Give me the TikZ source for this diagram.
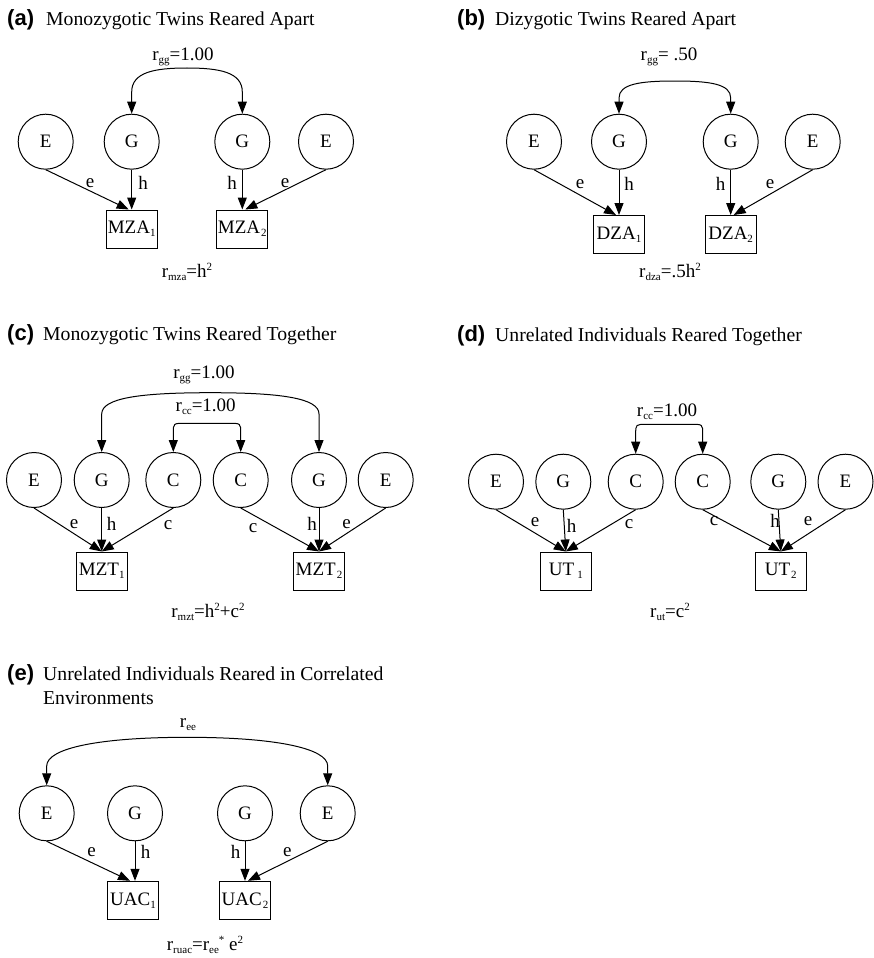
\documentclass[tikz,border=0pt]{standalone}
\usepackage{fontspec}
\setmainfont{Liberation Serif}
\newfontfamily\hel{Liberation Sans}
\usetikzlibrary{arrows.meta,calc}
\newcommand{\sbs}[1]{\raisebox{-0.35ex}{\fontsize{11}{11}\selectfont #1}}
\newcommand{\sps}[1]{\raisebox{0.8ex}{\fontsize{11}{11}\selectfont #1}}
\tikzset{
  every node/.style={font=\fontsize{19}{22}\selectfont},
  circ/.style={circle,draw,line width=1pt,minimum size=55pt,inner sep=0pt},
  obs/.style={rectangle,draw,line width=1pt,minimum width=51pt,minimum height=38pt,inner sep=0pt},
  arr/.style={line width=1pt,-{Triangle[length=12pt,width=9pt]}},
  darr/.style={line width=1pt,{Triangle[length=12pt,width=9pt]}-{Triangle[length=12pt,width=9pt]}},
  lbl/.style={inner sep=0pt},
  ttl/.style={anchor=base west,inner sep=0pt,font=\hel\bfseries\fontsize{22}{22}\selectfont},
  ttx/.style={anchor=base west,inner sep=0pt,font=\fontsize{19.7}{22}\selectfont}
}
\begin{document}
\begin{tikzpicture}[x=1pt,y=-1pt]
\useasboundingbox (0,0) rectangle (874,958);
% ---------------- (a)
\node[ttl] (ta) at (7,25.5) {(a)};
\node[ttx] (tta) at (46,25.5) {Monozygotic Twins Reared Apart};
\node[circ] (ae1) at (45.7,141.7) {E};
\node[circ] (ag1) at (131.7,141.7) {G};
\node[circ] (ag2) at (242.3,141.7) {G};
\node[circ] (ae2) at (326,141.7) {E};
\node[obs] (am1) at (131.7,229) {MZA\sbs{1}};
\node[obs] (am2) at (242.3,229) {MZA\kern1pt\sbs{2}};
\draw[darr] (ag1.north) -- (131.7,92) .. controls (131.7,72) and (155,68) .. (187,68) .. controls (219,68) and (242.3,72) .. (242.3,92) -- (ag2.north);
\node[lbl] (argg) at (183,57) {r\sbs{gg}=1.00};
\draw[arr] (ae1.south) -- ($(am1.north)+(-3,0)$);
\draw[arr] (ag1.south) -- (am1.north);
\draw[arr] (ag2.south) -- (am2.north);
\draw[arr] (ae2.south) -- ($(am2.north)+(3,0)$);
\node[lbl] (al1) at (90,183) {e};
\node[lbl] (al2) at (143,183) {h};
\node[lbl] (al3) at (232,183) {h};
\node[lbl] (al4) at (285,183) {e};
\node[lbl] (af) at (187,272) {r\sbs{mza}=h\sps{2}};
% ---------------- (b)
\node[ttl] (tb) at (457,25.5) {(b)};
\node[ttx] (ttb) at (495,25.5) {Dizygotic Twins Reared Apart};
\node[circ] (be1) at (534,141.7) {E};
\node[circ] (bg1) at (619,141.7) {G};
\node[circ] (bg2) at (730.7,141.7) {G};
\node[circ] (be2) at (812.7,141.7) {E};
\node[obs] (bm1) at (619,234.5) {DZA\sbs{1}};
\node[obs] (bm2) at (730.7,234.5) {DZA\sbs{2}};
\draw[darr] (bg1.north) -- (619,98) .. controls (619,84) and (640,81) .. (674.9,81) .. controls (710,81) and (730.7,84) .. (730.7,98) -- (bg2.north);
\node[lbl] (brgg) at (669,57) {r\sbs{gg}= .50};
\draw[arr] (be1.south) -- ($(bm1.north)+(-3,0)$);
\draw[arr] (bg1.south) -- (bm1.north);
\draw[arr] (bg2.south) -- (bm2.north);
\draw[arr] (be2.south) -- ($(bm2.north)+(3,0)$);
\node[lbl] (bl1) at (580,184) {e};
\node[lbl] (bl2) at (629,184) {h};
\node[lbl] (bl3) at (720.7,184) {h};
\node[lbl] (bl4) at (770,184) {e};
\node[lbl] (bf) at (670,272) {r\sbs{dza}=.5h\sps{2}};
% ---------------- (c)
\node[ttl] (tc) at (7,340) {(c)};
\node[ttx] (ttc) at (43,340) {Monozygotic Twins Reared Together};
\node[circ] (ce1) at (34,480) {E};
\node[circ] (cg1) at (101.7,480) {G};
\node[circ] (cc1) at (173.3,480) {C};
\node[circ] (cc2) at (240.7,480) {C};
\node[circ] (cg2) at (319,480) {G};
\node[circ] (ce2) at (385.7,480) {E};
\node[obs] (cm1) at (101.7,571) {MZT\sbs{1}};
\node[obs] (cm2) at (319,571) {MZT\kern1pt\sbs{2}};
\draw[darr] (cg1.north) -- (101.7,414) .. controls (101.7,398) and (140,392.7) .. (210.3,392.7) .. controls (280,392.7) and (319,398) .. (319,414) -- (cg2.north);
\draw[darr] (cc1.north) -- (173.3,433) .. controls (173.3,423.3) .. (185,423.3) -- (229,423.3) .. controls (240.7,423.3) .. (240.7,433) -- (cc2.north);
\node[lbl] (crgg) at (204,375) {r\sbs{gg}=1.00};
\node[lbl] (crcc) at (205.7,406.7) {r\sbs{cc}=1.00};
\draw[arr] (ce1.south) -- (cm1.north);
\draw[arr] (cg1.south) -- (cm1.north);
\draw[arr] (cc1.south) -- (cm1.north);
\draw[arr] (cc2.south) -- (cm2.north);
\draw[arr] (cg2.south) -- (cm2.north);
\draw[arr] (ce2.south) -- (cm2.north);
\node[lbl] (cl1) at (74,524) {e};
\node[lbl] (cl2) at (111.7,524) {h};
\node[lbl] (cl3) at (168,525) {c};
\node[lbl] (cl4) at (253,528) {c};
\node[lbl] (cl5) at (312,524) {h};
\node[lbl] (cl6) at (346.7,524) {e};
\node[lbl] (cf) at (208,612) {r\sbs{mzt}=h\sps{2}+c\sps{2}};
% ---------------- (d)
\node[ttl] (td) at (457,341.5) {(d)};
\node[ttx] (ttd) at (495,341.5) {Unrelated Individuals Reared Together};
\node[circ] (de1) at (496,481.7) {E};
\node[circ] (dg1) at (563.3,481.7) {G};
\node[circ] (dc1) at (635.7,481.7) {C};
\node[circ] (dc2) at (702.7,481.7) {C};
\node[circ] (dg2) at (778.3,481.7) {G};
\node[circ] (de2) at (845.5,481.7) {E};
\node[obs] (dm1) at (565.8,571) {UT\,\sbs{1}};
\node[obs] (dm2) at (780.8,571) {UT\kern1pt\sbs{2}};
\draw[darr] (dc1.north) -- (635.7,434) .. controls (635.7,424.3) .. (647,424.3) -- (691,424.3) .. controls (702.7,424.3) .. (702.7,434) -- (dc2.north);
\node[lbl] (drcc) at (667,411.7) {r\sbs{cc}=1.00};
\draw[arr] (de1.south) -- (dm1.north);
\draw[arr] (dg1.south) -- (dm1.north);
\draw[arr] (dc1.south) -- (dm1.north);
\draw[arr] (dc2.south) -- (dm2.north);
\draw[arr] (dg2.south) -- (dm2.north);
\draw[arr] (de2.south) -- (dm2.north);
\node[lbl] (dl1) at (535,521.7) {e};
\node[lbl] (dl2) at (571.7,526) {h};
\node[lbl] (dl3) at (629,524) {c};
\node[lbl] (dl4) at (714,521) {c};
\node[lbl] (dl5) at (775,521) {h};
\node[lbl] (dl6) at (808,521) {e};
\node[lbl] (df) at (670,612) {r\sbs{ut}=c\sps{2}};
% ---------------- (e)
\node[ttl] (te) at (7,680) {(e)};
\node[ttx] (tte) at (43,680) {Unrelated Individuals Reared in Correlated};
\node[ttx] (tte2) at (43,704) {Environments};
\node[circ] (ee1) at (46.7,813.3) {E};
\node[circ] (eg1) at (135,813.3) {G};
\node[circ] (eg2) at (245,813.3) {G};
\node[circ] (ee2) at (327.7,813.3) {E};
\node[obs] (em1) at (133,900.3) {UAC\sbs{1}};
\node[obs] (em2) at (245,900.3) {UAC\kern1pt\sbs{2}};
\draw[darr] (ee1.north) -- (46.7,766) .. controls (46.7,748) and (100,737.3) .. (187.2,737.3) .. controls (274,737.3) and (327.7,748) .. (327.7,766) -- (ee2.north);
\node[lbl] (eree) at (188,725) {r\sbs{ee}};
\draw[arr] (ee1.south) -- ($(em1.north)+(-3,0)$);
\draw[arr] (eg1.south) -- ($(em1.north)+(2,0)$);
\draw[arr] (eg2.south) -- (em2.north);
\draw[arr] (ee2.south) -- ($(em2.north)+(3,0)$);
\node[lbl] (el1) at (91.7,851.7) {e};
\node[lbl] (el2) at (145.7,851.7) {h};
\node[lbl] (el3) at (235.7,851.7) {h};
\node[lbl] (el4) at (287.3,851.7) {e};
\node[lbl] (ef) at (205,945) {r\sbs{ruac}=r\sbs{ee}\sps{*} e\sps{2}};
\end{tikzpicture}
\end{document}
